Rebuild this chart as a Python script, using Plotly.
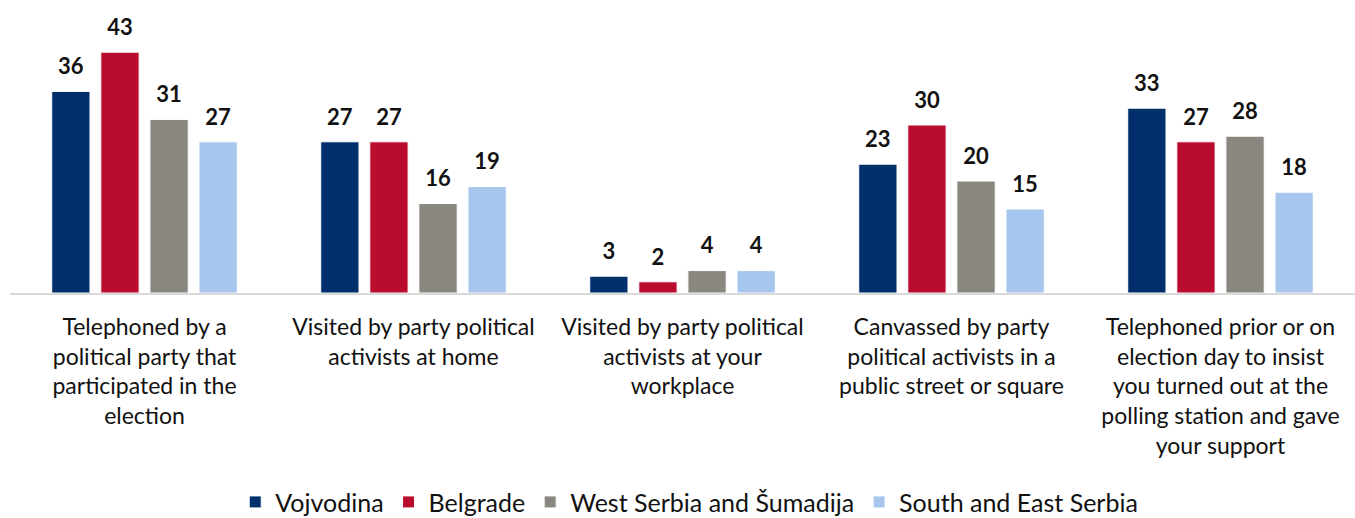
import plotly.graph_objects as go

categories = [
    "Telephoned by a<br>political party that<br>participated in the<br>election",
    "Visited by party political<br>activists at home",
    "Visited by party political<br>activists at your<br>workplace",
    "Canvassed by party<br>political activists in a<br>public street or square",
    "Telephoned prior or on<br>election day to insist<br>you turned out at the<br>polling station and gave<br>your support",
]
series_names = ["Vojvodina", "Belgrade", "West Serbia and Šumadija", "South and East Serbia"]
vojvodina = [36, 27, 3, 23, 33]
belgrade = [43, 27, 2, 30, 27]
west_serbia = [31, 16, 4, 20, 28]
south_east = [27, 19, 4, 15, 18]
colors = ["#002F6C", "#BA0C2F", "#8A8680", "#A7C6ED"]

FONT = "Lato"
fig = go.Figure()
all_series = [vojvodina, belgrade, west_serbia, south_east]
for name, vals, col in zip(series_names, all_series, colors):
    fig.add_trace(go.Bar(
        x=categories, y=vals, name=name,
        marker=dict(color=col, line=dict(color="white", width=1)),
        cliponaxis=False,
    ))
# value labels, grouped like the bars
for name, vals in zip(series_names, all_series):
    fig.add_trace(go.Scatter(
        x=categories, y=vals, mode="markers+text", showlegend=False,
        marker=dict(size=17, opacity=0),
        text=[str(v) for v in vals], textposition="top center",
        textfont=dict(family=FONT, size=22, color="#111111", weight="bold"),
        cliponaxis=False, hoverinfo="skip",
    ))

fig.update_layout(
    width=1355, height=518,
    margin=dict(l=10, r=0, t=41, b=225, autoexpand=False),
    paper_bgcolor="white", plot_bgcolor="white",
    barmode="group", bargap=0.27, bargroupgap=0.22,
    scattermode="group", scattergap=0.27,
    font=dict(family=FONT, size=23, color="#111111"),
    showlegend=True,
    legend=dict(orientation="h", x=0.505, xanchor="center", y=-0.83, yanchor="middle",
                font=dict(family=FONT, size=25, color="#111111"), traceorder="normal"),
    xaxis=dict(showline=True, linecolor="#D9D9D9", linewidth=2, ticks="",
               ticklabelstandoff=12,
               tickfont=dict(family=FONT, size=23, color="#111111"), showgrid=False),
    yaxis=dict(range=[0, 45], visible=False, showgrid=False),
)
fig.write_html("out.html")
